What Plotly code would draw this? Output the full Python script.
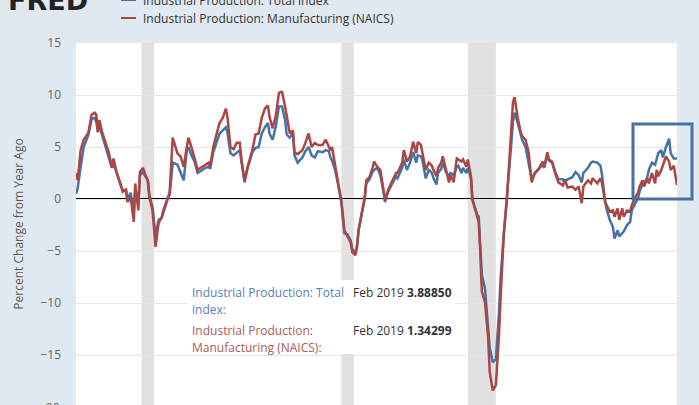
import plotly.graph_objects as go

# ---------------- data ----------------
dates = [
"1987-01","1987-02","1987-04","1987-06","1987-09","1987-11","1988-01","1988-02","1988-03","1988-04",
"1988-06","1988-08","1988-10","1988-12","1989-01","1989-03","1989-05","1989-07","1989-09","1989-10",
"1989-12","1990-02","1990-03","1990-05","1990-06","1990-08","1990-09","1990-11","1990-12","1991-02",
"1991-04","1991-06","1991-08","1991-09","1991-12","1992-01","1992-03","1992-06","1992-08","1992-10",
"1992-12","1993-01","1993-03","1993-05","1993-07","1993-10","1993-12","1994-02","1994-03","1994-05",
"1994-07","1994-09","1994-11","1995-01","1995-02","1995-04","1995-06","1995-08","1995-10","1995-11",
"1996-01","1996-03","1996-06","1996-08","1996-10","1996-12","1997-02","1997-04","1997-05","1997-07",
"1997-09","1997-11","1997-12","1998-01","1998-03","1998-04","1998-06","1998-08","1998-09","1998-11",
"1999-02","1999-04","1999-06","1999-08","1999-10","1999-12","2000-03","2000-05","2000-07","2000-08",
"2000-09","2000-11","2001-01","2001-03","2001-04","2001-05","2001-07","2001-09","2001-10","2001-12",
"2002-01","2002-02","2002-04","2002-06","2002-07","2002-09","2002-11","2002-12","2003-02","2003-04",
"2003-06","2003-07","2003-09","2003-12","2004-02","2004-03","2004-06","2004-07","2004-09","2004-11",
"2005-01","2005-03","2005-04","2005-06","2005-07","2005-09","2005-11","2006-01","2006-02","2006-04",
"2006-05","2006-07","2006-08","2006-10","2006-12","2007-01","2007-03","2007-05","2007-06","2007-08",
"2007-09","2007-11","2007-12","2008-02","2008-03","2008-06","2008-07","2008-08","2008-09","2008-11",
"2009-01","2009-02","2009-04","2009-06","2009-08","2009-09","2009-11","2010-01","2010-02","2010-04",
"2010-05","2010-06","2010-08","2010-10","2010-11","2011-01","2011-03","2011-05","2011-07","2011-09",
"2011-12","2012-01","2012-03","2012-04","2012-06","2012-08","2012-10","2013-01","2013-02","2013-04",
"2013-07","2013-09","2013-11","2014-01","2014-02","2014-05","2014-07","2014-08","2014-11","2015-01",
"2015-02","2015-04","2015-05","2015-07","2015-09","2015-10","2015-12","2016-01","2016-03","2016-04",
"2016-06","2016-08","2016-09","2016-11","2017-01","2017-02","2017-04","2017-05","2017-07","2017-08",
"2017-10","2017-12","2018-01","2018-02","2018-04","2018-05","2018-07","2018-09","2018-10","2018-12",
"2019-02",
]

manufacturing = [
2.5,1.8,4.7,5.7,6.4,8.1,8.3,8.1,6.4,7.6,
6.3,5.4,4.5,3.0,3.9,2.6,1.6,0.7,0.9,-0.3,
0.2,-2.2,1.5,-1.1,2.6,3.0,2.5,1.8,0.2,-1.1,
-4.6,-2.3,-1.7,-1.1,0.2,0.6,5.9,4.4,4.1,3.1,
5.0,5.9,5.0,4.0,2.8,3.1,3.3,3.5,3.1,5.0,
6.2,7.3,7.8,8.7,7.9,5.0,4.8,5.4,5.4,3.8,
1.6,3.1,4.7,6.2,6.3,7.8,8.7,9.0,7.9,6.8,
8.0,10.2,10.3,10.3,8.9,7.9,6.3,6.6,4.5,4.3,
4.7,5.4,6.3,5.0,5.4,5.2,5.2,5.7,5.0,4.7,
5.0,3.1,1.5,-0.1,-1.7,-3.0,-3.6,-4.2,-5.1,-5.4,
-4.6,-3.0,-1.4,0.2,1.8,2.1,3.0,3.6,3.1,2.8,
0.9,-0.1,0.9,1.8,2.5,2.5,3.5,4.7,3.6,4.1,
5.5,4.4,5.5,5.2,4.4,2.8,3.5,3.2,2.8,2.2,
3.0,3.5,4.1,2.8,1.6,2.3,1.6,3.9,3.8,3.6,
3.8,3.1,3.8,2.2,-0.1,-1.8,-2.2,-5.1,-8.9,-9.9,
-13.3,-16.6,-18.4,-17.9,-13.1,-9.5,-3.5,-0.1,2.3,6.2,
9.3,9.8,7.8,6.4,6.0,5.7,4.5,1.6,2.5,2.8,
3.6,3.1,4.5,3.8,3.6,2.5,1.6,1.3,1.9,1.1,
1.2,0.9,1.2,-0.4,1.2,1.8,1.5,2.0,1.5,2.0,
1.5,-0.3,-0.6,-1.2,-1.1,-1.7,-0.9,-2.0,-0.9,-1.7,
-1.1,-1.2,-0.6,0.1,0.6,1.2,1.8,1.2,2.0,1.5,
2.5,1.5,2.8,2.2,2.8,3.2,4.1,3.6,2.8,3.2,
1.34299,
]

total_index = [
0.5,1.0,3.1,5.0,6.2,7.7,7.8,7.4,6.6,7.0,
6.0,5.0,4.2,3.0,3.4,2.5,1.8,0.8,0.9,0.0,
0.6,-1.2,1.0,-0.5,2.3,2.6,2.3,1.8,0.4,-0.8,
-3.5,-2.0,-1.8,-1.3,0.1,0.4,3.5,3.3,2.6,1.8,
4.7,5.0,4.2,3.6,2.5,2.8,3.0,3.1,2.9,4.5,
5.4,6.3,6.6,6.9,6.4,4.4,4.2,4.5,4.7,3.6,
1.8,3.0,4.5,4.9,5.0,6.3,6.9,7.3,6.3,5.7,
7.0,8.9,8.9,8.9,7.6,6.2,5.9,6.3,4.2,3.5,
4.0,4.6,5.0,4.2,4.0,4.6,4.5,4.7,4.6,4.0,
3.7,2.8,1.3,-0.3,-1.8,-3.3,-3.4,-4.0,-4.8,-5.2,
-4.5,-3.0,-1.5,0.0,1.5,1.9,2.6,2.8,3.0,2.3,
0.7,-0.3,0.7,1.6,2.2,2.0,3.0,3.8,2.8,3.5,
4.5,3.5,4.2,4.1,3.7,2.0,2.8,2.5,2.0,1.4,
2.5,2.9,3.5,2.6,2.2,2.5,2.3,3.1,3.2,2.5,
3.0,2.5,3.0,2.0,0.0,-1.5,-1.7,-4.5,-7.3,-8.6,
-12.8,-14.3,-15.7,-15.4,-10.9,-7.6,-3.5,-0.1,2.0,5.5,
7.5,8.3,7.3,6.0,5.6,5.0,3.6,1.9,2.5,2.8,
3.3,3.0,4.3,3.7,3.5,2.6,1.9,1.9,1.6,1.9,
2.1,2.6,2.3,1.6,2.5,3.0,3.5,3.6,3.5,3.2,
2.3,-0.2,-1.0,-2.0,-2.7,-3.8,-3.0,-3.6,-3.3,-3.1,
-2.5,-2.2,-1.1,-0.5,0.1,0.7,1.5,1.5,2.1,2.8,
3.5,3.3,3.8,4.4,4.7,4.0,5.0,5.8,4.4,3.9,
3.88850,
]

recession_starts = ["1990-07-01", "2001-03-01", "2007-12-01"]
recession_ends = ["1991-03-01", "2001-11-01", "2009-06-01"]

y_ticks = [-15, -10, -5, 0, 5, 10, 15]

series_names = ["Industrial Production: Total index",
                "Industrial Production: Manufacturing (NAICS)"]

assert len(dates) == len(manufacturing) == len(total_index)

# ---------------- styling ----------------
BLUE = "#4572a7"
RED = "#aa4643"
BG = "#e1e9f0"
FONT = "Open Sans"

W, H = 699, 405
L, R, T, B = 76, 22, 43, 0
PW, PH = W - L - R, H - T - B


def px(x):  # pixel x -> paper
    return (x - L) / PW


def py(y):  # pixel y -> paper
    return (H - B - y) / PH


fig = go.Figure()
fig.add_trace(go.Scatter(x=[d + "-01" for d in dates], y=total_index, mode="lines",
                         line=dict(color=BLUE, width=2.5), name=series_names[0]))
fig.add_trace(go.Scatter(x=[d + "-01" for d in dates], y=manufacturing, mode="lines",
                         line=dict(color=RED, width=2.5), name=series_names[1]))

shapes = []
for s, e in zip(recession_starts, recession_ends):
    shapes.append(dict(type="rect", xref="x", yref="paper", x0=s, x1=e, y0=0, y1=1,
                       fillcolor="#e1e1e1", line=dict(width=0), layer="between"))
# zero line
shapes.append(dict(type="line", xref="paper", yref="y", x0=0, x1=1, y0=0, y1=0,
                   line=dict(color="black", width=2), layer="between"))
# highlight box
shapes.append(dict(type="rect", xref="paper", yref="paper",
                   x0=px(633), x1=px(692), y0=py(199), y1=py(124),
                   line=dict(color="#4a6fa5", width=3), fillcolor="rgba(0,0,0,0)",
                   layer="above"))
# tooltip box
shapes.append(dict(type="rect", xref="paper", yref="paper",
                   x0=px(187), x1=px(455), y0=py(354), y1=py(280),
                   line=dict(width=0), fillcolor="white", layer="above"))
# legend line samples
shapes.append(dict(type="line", xref="paper", yref="paper", x0=px(121), x1=px(136),
                   y0=py(0), y1=py(0), line=dict(color=BLUE, width=2), layer="above"))
shapes.append(dict(type="line", xref="paper", yref="paper", x0=px(121), x1=px(136),
                   y0=py(18), y1=py(18), line=dict(color=RED, width=2), layer="above"))

ann = []


def text(x, y, s, color, size=12, anchor="left", yanchor="middle", **kw):
    ann.append(dict(x=px(x), y=py(y), xref="paper", yref="paper", text=s, showarrow=False,
                    xanchor=anchor, yanchor=yanchor,
                    font=dict(family=FONT, size=size, color=color), **kw))


# legend texts
text(141, 0, series_names[0], "#333333")
text(141, 18, series_names[1], "#333333")
# FRED logo
ann.append(dict(x=px(6), y=py(18), xref="paper", yref="paper", text="<b>FRED</b>",
                showarrow=False, xanchor="left", yanchor="bottom",
                font=dict(family="DejaVu Sans", size=27, color="#222222")))
# tooltip texts
text(190, 292, "Industrial Production: Total", "#5a7db5")
text(190, 309, "index:", "#5a7db5")
text(351, 292, "Feb 2019 <b>3.88850</b>", "#333333")
text(190, 330, "Industrial Production:", "#b05a52")
text(190, 347, "Manufacturing (NAICS):", "#b05a52")
text(351, 330, "Feb 2019 <b>1.34299</b>", "#333333")
# partially visible -20 tick label
text(62, 407, "-20", "#666666", anchor="right")

fig.update_layout(
    width=W, height=H, autosize=False,
    margin=dict(l=L, r=R, t=T, b=B, pad=0),
    paper_bgcolor=BG, plot_bgcolor="white",
    showlegend=False,
    shapes=shapes, annotations=ann,
    xaxis=dict(type="date", range=["1987-01-01", "2019-02-01"], showgrid=False,
               showticklabels=False, zeroline=False, showline=False, ticks="",
               automargin=False),
    yaxis=dict(range=[-19.8, 15], tickvals=y_ticks, showgrid=True, gridcolor="#e6e6e6",
               gridwidth=1, zeroline=False, showline=False, ticks="",
               tickfont=dict(family=FONT, size=12, color="#666666"),
               ticklabelstandoff=14, automargin=False,
               title=dict(text="Percent Change from Year Ago", standoff=14,
                          font=dict(family=FONT, size=12, color="#595959"))),
)

fig.write_html(
    "out.html",
    config={"displayModeBar": False},
    post_script="document.body.style.margin='0px';"
                "document.body.style.overflow='hidden';"
                "document.body.style.background='" + BG + "';",
)
